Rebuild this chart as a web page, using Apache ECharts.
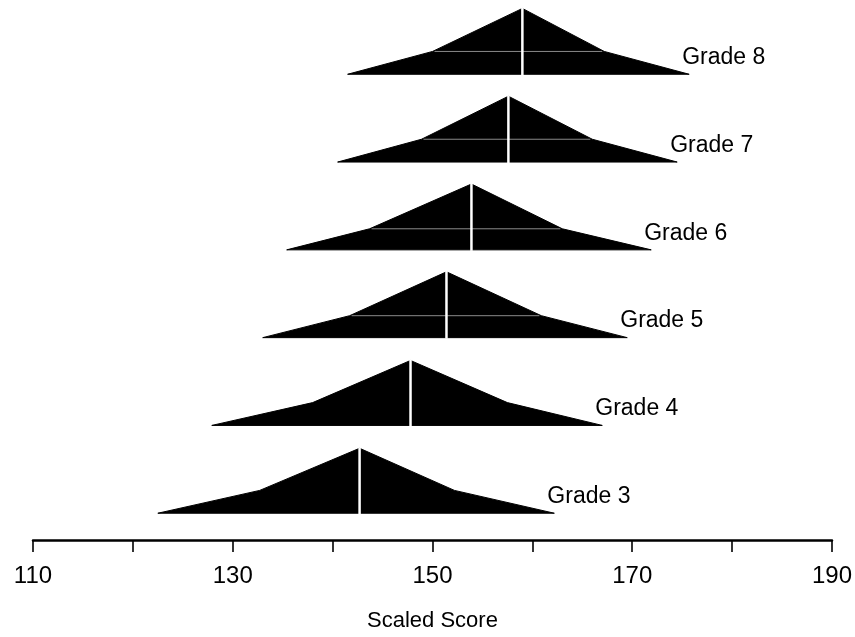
<!DOCTYPE html>
<html>
<head>
<meta charset="utf-8">
<script src="https://cdn.jsdelivr.net/npm/echarts@6/dist/echarts.min.js"></script>
<style>
html,body{margin:0;padding:0;background:#fff;}
#chart{width:855px;height:637px;}
</style>
</head>
<body>
<div id="chart"></div>
<script>
// Grades (bottom to top)
const grades = ['Grade 3', 'Grade 4', 'Grade 5', 'Grade 6', 'Grade 7', 'Grade 8'];
// Scaled-score positions of each distribution shape
const leftBase  = [122.5, 127.9, 133.0, 135.4, 140.5, 141.5];
const leftKnee  = [132.7, 138.0, 141.7, 143.7, 148.9, 150.0];
const median    = [142.7, 147.8, 151.4, 153.9, 157.6, 159.0];
const rightKnee = [152.2, 157.5, 160.9, 163.0, 166.0, 167.2];
const rightBase = [162.2, 167.0, 169.5, 171.9, 174.5, 175.7];
// Relative heights (in grade-row units)
const kneeHeight = [0.26, 0.26, 0.25, 0.24, 0.26, 0.26];
const peakHeight = [0.74, 0.74, 0.75, 0.75, 0.75, 0.75];
// Whether the knee guide line is visible
const kneeLineShown = [false, false, true, true, true, true];
// X-axis tick labels
const xTickLabels = [110, 130, 150, 170, 190];

const data = grades.map((g, i) => [i, leftBase[i], leftKnee[i], median[i], rightKnee[i], rightBase[i], kneeHeight[i], peakHeight[i]]);

const FONT = 'Liberation Sans, Arial, sans-serif';
const chart = echarts.init(document.getElementById('chart'), null, {renderer: 'canvas'});
chart.setOption({
  animation: false,
  backgroundColor: '#ffffff',
  grid: {left: 33, right: 22, top: 0, bottom: 92, containLabel: false},
  xAxis: {
    type: 'value', min: 110, max: 190, interval: 10,
    axisLine: {show: true, onZero: false, lineStyle: {color: '#000', width: 2.5}},
    axisTick: {show: true, length: 12, lineStyle: {color: '#000', width: 1.6}},
    splitLine: {show: false},
    axisLabel: {
      color: '#000', fontSize: 24, fontFamily: FONT, margin: 24,
      formatter: v => xTickLabels.includes(v) ? String(v) : ''
    },
    name: 'Scaled Score', nameLocation: 'middle', nameGap: 70,
    nameTextStyle: {color: '#000', fontSize: 22, fontFamily: FONT}
  },
  yAxis: {type: 'value', min: -0.305, max: 5.846, show: false, splitLine: {show: false}},
  series: [{
    type: 'custom',
    data: data,
    encode: {x: [1, 2, 3, 4, 5], y: 0},
    renderItem: function (params, api) {
      const i = api.value(0);
      const lb = api.value(1), lk = api.value(2), md = api.value(3), rk = api.value(4), rb = api.value(5);
      const kh = api.value(6), ph = api.value(7);
      const c = (x, y) => api.coord([x, y]);
      const pts = [c(lb, i), c(lk, i + kh), c(md, i + ph), c(rk, i + kh), c(rb, i)];
      const children = [{
        type: 'polygon', shape: {points: pts}, style: {fill: '#000', stroke: '#000', lineWidth: 1}
      }];
      if (kneeLineShown[i]) {
        const a = c(lk, i + kh), b = c(rk, i + kh);
        children.push({type: 'line', shape: {x1: a[0] + 2, y1: a[1], x2: b[0] - 2, y2: b[1]}, style: {stroke: '#8a8a8a', lineWidth: 1}});
      }
      const top = c(md, i + ph), bot = c(md, i);
      children.push({type: 'line', shape: {x1: top[0], y1: top[1] - 1, x2: bot[0], y2: bot[1] + 1}, style: {stroke: '#fff', lineWidth: 2.5}});
      const lp = c(rb, i);
      children.push({type: 'text', style: {
        text: grades[i], x: lp[0] - 7, y: lp[1] - 5, align: 'left', verticalAlign: 'bottom',
        fill: '#000', fontSize: 23, fontFamily: FONT
      }});
      return {type: 'group', children: children};
    }
  }]
});
</script>
</body>
</html>
